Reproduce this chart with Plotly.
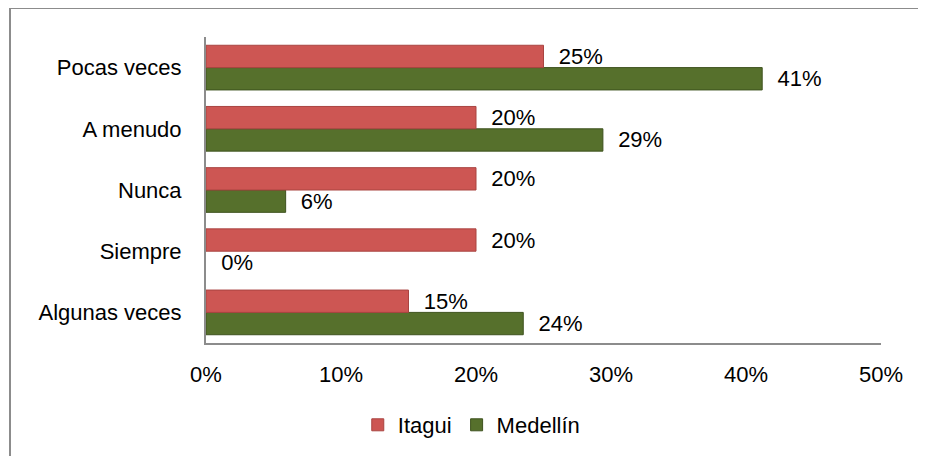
import plotly.graph_objects as go

categories = ["Algunas veces", "Siempre", "Nunca", "A menudo", "Pocas veces"]
itagui = [0.15, 0.20, 0.20, 0.20, 0.25]
medellin = [0.235, 0.0, 0.059, 0.294, 0.412]
x_ticks = [0, 0.1, 0.2, 0.3, 0.4, 0.5]
x_ticklabels = ["0%", "10%", "20%", "30%", "40%", "50%"]

FONT = "Arial, Liberation Sans, sans-serif"
NB = "\u00a0\u00a0"

fig = go.Figure()
fig.add_trace(go.Bar(
    y=categories, x=medellin, orientation="h", name="Medellín",
    marker=dict(color="#56702C",
                line=dict(color="#3E521E", width=[1 if v > 0 else 0 for v in medellin])),
    text=[NB + f"{v*100:.0f}%" for v in medellin],
    textposition="outside", constraintext="none", cliponaxis=False,
    textfont=dict(family=FONT, size=22, color="#000000"),
    hoverinfo="skip",
))
fig.add_trace(go.Bar(
    y=categories, x=itagui, orientation="h", name="Itagui",
    marker=dict(color="#CD5653",
                line=dict(color="#A94441", width=[1 if v > 0 else 0 for v in itagui])),
    text=[NB + f"{v*100:.0f}%" for v in itagui],
    textposition="outside", constraintext="none", cliponaxis=False,
    textfont=dict(family=FONT, size=22, color="#000000"),
    hoverinfo="skip",
))

# page body has an 8px offset; margins compensate so the plot area lands at x 206-881, y 37-343
fig.update_layout(
    width=926, height=456,
    margin=dict(l=198, r=53, t=29, b=121),
    paper_bgcolor="white", plot_bgcolor="white",
    barmode="group", bargap=0.27, bargroupgap=0,
    font=dict(family=FONT, size=22, color="#000000"),
    showlegend=True,
    legend=dict(
        orientation="h", traceorder="reversed",
        x=0.393, xanchor="center", y=-0.268, yanchor="middle",
        font=dict(family=FONT, size=22, color="#000000"),
        itemwidth=30, bgcolor="rgba(0,0,0,0)",
    ),
    xaxis=dict(
        range=[0, 0.5], tickvals=x_ticks, ticktext=x_ticklabels,
        showgrid=False, zeroline=False, showline=True,
        linecolor="#8C8C8C", linewidth=2, ticks="",
        ticklabelstandoff=11,
        tickfont=dict(family=FONT, size=22, color="#000000"),
    ),
    yaxis=dict(
        type="category", categoryorder="array", categoryarray=categories,
        showgrid=False, zeroline=False, showline=True,
        linecolor="#8C8C8C", linewidth=2, ticks="",
        ticklabelstandoff=18,
        tickfont=dict(family=FONT, size=22, color="#000000"),
    ),
)

# outer chart frame (right/bottom edges fall outside the canvas)
fig.add_shape(type="rect", xref="paper", yref="paper",
              x0=(10 - 206) / 675, x1=(940 - 206) / 675,
              y0=(343 - 470) / 306, y1=(343 - 8) / 306,
              line=dict(color="#8C8C8C", width=2), fillcolor="rgba(0,0,0,0)",
              layer="below")

fig.write_html("out.html")
